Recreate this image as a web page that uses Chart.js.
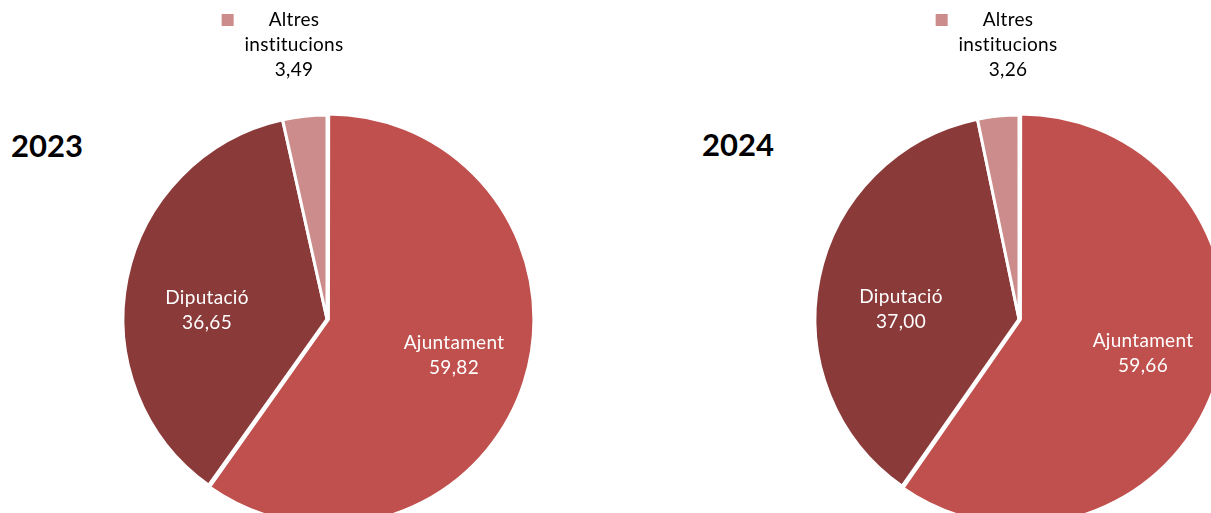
<!DOCTYPE html>
<html>
<head>
<meta charset="utf-8">
<script src="https://cdn.jsdelivr.net/npm/chart.js@4"></script>
<style>
  html, body { margin: 0; padding: 0; width: 1211px; height: 513px; overflow: hidden; background: #fff; }
  canvas { position: absolute; top: 0; }
  .any { position: absolute; font-family: Lato, sans-serif; font-weight: bold; font-size: 31px; color: #000; }
</style>
</head>
<body>
<div class="any" style="left:11px; top:126px;">2023</div>
<div class="any" style="left:702px; top:125px;">2024</div>
<canvas id="pie2023" width="654" height="638" style="left:0px;"></canvas>
<canvas id="pie2024" width="654" height="638" style="left:692px;"></canvas>
<script>
const categories = ['Ajuntament', 'Diputació', 'Altres institucions'];
const valors2023 = [59.82, 36.65, 3.49];
const valors2024 = [59.66, 37.00, 3.26];
const colors = ['#C0504D', '#8B3A3A', '#CB8C8B'];

const fmt = v => v.toFixed(2).replace('.', ',');

// etiquetes: posicio relativa al centre del pastis
const etiquetes = {
    id: 'etiquetes',
    afterDatasetsDraw(chart, args, opts) {
        const c = chart.ctx;
        const arcs = chart.getDatasetMeta(0).data;
        const vals = chart.data.datasets[0].data;
        c.save();
        c.font = '19px Lato, sans-serif';
        c.letterSpacing = '0.3px';
        c.textAlign = 'center';
        c.textBaseline = 'middle';
        arcs.forEach((arc, i) => {
            const x = arc.x + opts.pos[i][0];
            const y = arc.y + opts.pos[i][1];
            const noms = chart.data.labels[i].split(' ');
            const linies = noms.concat([fmt(vals[i])]);
            c.fillStyle = i === 2 ? '#000' : '#fff';
            const h = 25;
            const y0 = y - (linies.length - 1) * h / 2;
            linies.forEach((t, k) => c.fillText(t, x, y0 + k * h));
            if (i === 2) {
                const w = c.measureText(linies[0]).width;
                c.fillStyle = colors[2];
                c.fillRect(x - w / 2 - 35 - 12, y0 - 6, 12, 12);
            }
        });
        c.restore();
    }
};

function fesPastis(id, valors, pos) {
    return new Chart(document.getElementById(id), {
        type: 'pie',
        data: {
            labels: categories,
            datasets: [{
                data: valors,
                backgroundColor: colors,
                borderColor: '#fff',
                borderWidth: 3,
                offset: [6, 0, 0]
            }]
        },
        options: {
            responsive: false,
            animation: false,
            radius: 204,
            layout: { padding: 0 },
            plugins: {
                legend: { display: false },
                tooltip: { enabled: false },
                etiquetes: { pos: pos }
            }
        },
        plugins: [etiquetes]
    });
}

fesPastis('pie2023', valors2023, [[127, 36], [-120, -9], [-33, -274]]);
fesPastis('pie2024', valors2024, [[124, 34], [-118, -10], [-11, -274]]);
</script>
</body>
</html>
